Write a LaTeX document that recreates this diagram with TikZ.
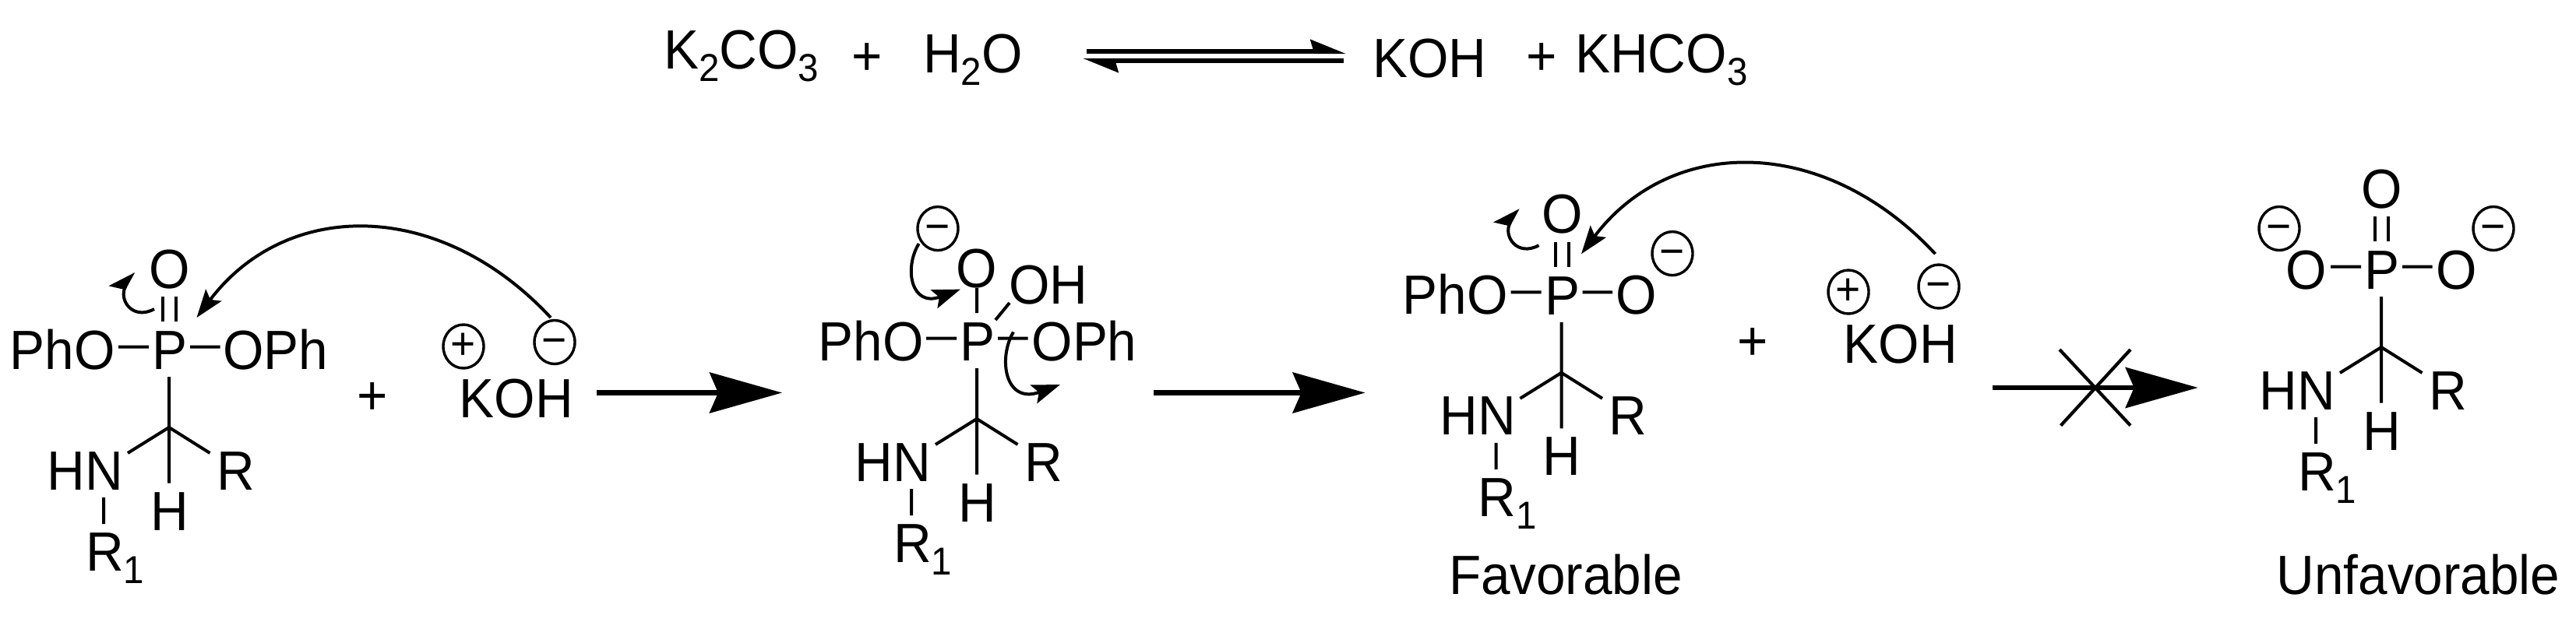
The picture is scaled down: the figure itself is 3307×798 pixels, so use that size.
\documentclass[tikz,border=0pt]{standalone}
\usepackage{fontspec}
\setmainfont[FakeStretch=0.95]{Liberation Sans}
\usetikzlibrary{arrows.meta}
\newcommand\subn[1]{\raisebox{-16pt}{\fontsize{50}{50}\selectfont #1}}
\tikzset{
 x=1pt,y=-1pt,
 atom/.style={inner sep=0pt,anchor=base,font=\fontsize{71}{80}\selectfont},
 atomw/.style={atom,anchor=base west},
 plusn/.style={atom,anchor=center},
 bond/.style={line width=4pt},
 charge/.style={draw,ellipse,line width=3.4pt,inner sep=0pt,minimum width=52pt,minimum height=56pt,font=\fontsize{58}{60}\selectfont},
 rxn/.style={line width=6.3pt,-{Stealth[length=93pt,width=52pt,inset=11pt]}},
 curly/.style={line width=4pt,-{Stealth[length=36pt,width=25pt,inset=7pt]}},
 hook/.style={line width=4pt,-{Stealth[harpoon,length=28pt,width=38pt,inset=5pt]}},
 eq/.style={line width=6pt,-{Stealth[harpoon,length=38pt,width=30pt,inset=4pt]}},
}
\usetikzlibrary{shapes.geometric}
\newcommand\amine[3]{%
 \begin{scope}[shift={(#2,#3)}]
 \coordinate (#1C) at (0,0);
 \coordinate (#1a) at (-53,33);
 \coordinate (#1b) at (52.5,33);
 \coordinate (#1c) at (0,71.6);
 \coordinate (#1d) at (-84,90);
 \coordinate (#1e) at (-84,124);
 \coordinate (#1f) at (0,-65);
 \coordinate (#1g) at (-65,-103.5);
 \coordinate (#1h) at (-26,-103.5);
 \coordinate (#1i) at (27,-103.5);
 \coordinate (#1j) at (65.5,-103.5);
 \node[atom] (#1P) at (1,-74.5) {P};
 \node[atom] (#1HN) at (-107.5,80) {HN};
 \node[atom] (#1R) at (85.5,80) {R};
 \node[atom] (#1H) at (0.5,132) {H};
 \node[atomw] (#1Ra) at (-107,184.6) {R\subn{1}};
 \draw[bond] (#1C)--(#1a) (#1C)--(#1b) (#1C)--(#1c) (#1C)--(#1f) (#1d)--(#1e) (#1g)--(#1h) (#1i)--(#1j);
 \end{scope}}
\newcommand\oxo[3]{%
 \begin{scope}[shift={(#2,#3)}]
 \coordinate (#1k) at (-8.5,-168);
 \coordinate (#1l) at (-8.5,-136);
 \coordinate (#1m) at (8.5,-168);
 \coordinate (#1n) at (8.5,-136);
 \node[atom] (#1O) at (0.5,-179) {O};
 \draw[bond] (#1k)--(#1l) (#1m)--(#1n);
 \end{scope}}
\newcommand\curlyset[3]{%
 \begin{scope}[shift={(#2,#3)}]
 \coordinate (#1s) at (198,397);
 \coordinate (#1t) at (171.4,349);
 \coordinate (#1u) at (707,408);
 \coordinate (#1v) at (252.5,408);
 \draw[hook] (#1s) .. controls (170,412) and (152,385) .. (#1t);
 \draw[curly] (#1u) .. controls (565,255) and (368,255) .. (#1v);
 \end{scope}}
\begin{document}
\begin{tikzpicture}
\useasboundingbox (0,0) rectangle (3307,798);
% top equation
\node[atomw] (kco) at (852,88) {K\subn{2}CO\subn{3}};
\node[plusn] (p1) at (1113,76) {+};
\node[atomw] (hho) at (1185,93) {H\subn{2}O};
\coordinate (e1) at (1395,66);
\coordinate (e2) at (1728,66);
\coordinate (e3) at (1725,78);
\coordinate (e4) at (1390,78);
\draw[eq] (e1)--(e2);
\draw[eq] (e3)--(e4);
\node[atom] (koh0) at (1835.5,99) {KOH};
\node[plusn] (p2) at (1979,76) {+};
\node[atomw] (khco) at (2022,93) {KHCO\subn{3}};
% structure 1
\amine{A}{217}{549}
\oxo{A}{217.5}{549}
\node[atom] (APhO) at (80,474.5) {PhO};
\node[atom] (AOPh) at (353.5,474.5) {OPh};
\curlyset{A}{0}{0}
\node[plusn] (p3) at (478,512) {+};
\node[atom] (Akoh) at (663,536.7) {KOH};
\node[charge] (Acp) at (595,445) {+};
\node[charge] (Acm) at (712,439.5) {\vphantom{+}−};
\coordinate (r1a) at (766,504.5);
\coordinate (r1b) at (1004,504.5);
\draw[rxn] (r1a)--(r1b);
% structure 2
\amine{B}{1254}{538}
\node[atom] (BO) at (1254,369) {O};
\node[atom] (BOH) at (1346,390) {OH};
\node[atom] (BPhO) at (1118,463.6) {PhO};
\node[atom] (BOPh) at (1392,463.6) {OPh};
\node[charge] (Bcm) at (1204,293.6) {\vphantom{+}−};
\coordinate (Bp) at (1254,370);
\coordinate (Bq) at (1254,402);
\coordinate (Br) at (1296,389);
\coordinate (Bs) at (1278,411);
\draw[bond] (Bp)--(Bq) (Br)--(Bs);
\coordinate (Bt) at (1179.6,313);
\coordinate (Bu) at (1233,371.6);
\draw[curly] (Bt) .. controls (1160,345) and (1170,395) .. (Bu);
\coordinate (Bv) at (1301,426.5);
\coordinate (Bw) at (1361,494);
\draw[curly] (Bv) .. controls (1281,460) and (1290,520) .. (Bw);
\coordinate (r2a) at (1481,504.5);
\coordinate (r2b) at (1752.6,504.5);
\draw[rxn] (r2a)--(r2b);
% structure 3
\amine{C}{2004.5}{478.8}
\oxo{C}{2005}{478.8}
\node[atom] (CPhO) at (1868,403) {PhO};
\node[atom] (CO2) at (2100.75,403) {O};
\node[charge] (Ccm0) at (2147,325.6) {\vphantom{+}−};
\curlyset{C}{1777.5}{-81.8}
\node[atom] (Cfav) at (2010,763) {Favorable};
\node[plusn] (p4) at (2250,442) {+};
\node[atom] (Ckoh) at (2440,466) {KOH};
\node[charge] (Ccp) at (2373,375) {+};
\node[charge] (Ccm) at (2489,368) {\vphantom{+}−};
\coordinate (r3a) at (2558,498);
\coordinate (r3b) at (2821.7,498);
\draw[rxn] (r3a)--(r3b);
\coordinate (xa) at (2644,449);
\coordinate (xb) at (2735,546.6);
\coordinate (xc) at (2735,449);
\coordinate (xd) at (2645.6,546.6);
\draw[line width=4.2pt] (xa)--(xb) (xc)--(xd);
% structure 4
\amine{D}{3057}{446}
\oxo{D}{3057.5}{446}
\node[atom] (DO1) at (2960.75,371) {O};
\node[atom] (DO2) at (3154,371) {O};
\node[charge] (Dcm1) at (2926,293.5) {\vphantom{+}−};
\node[charge] (Dcm2) at (3201,293.5) {\vphantom{+}−};
\node[atom] (Dunf) at (3104.5,763) {Unfavorable};
\end{tikzpicture}
\end{document}
